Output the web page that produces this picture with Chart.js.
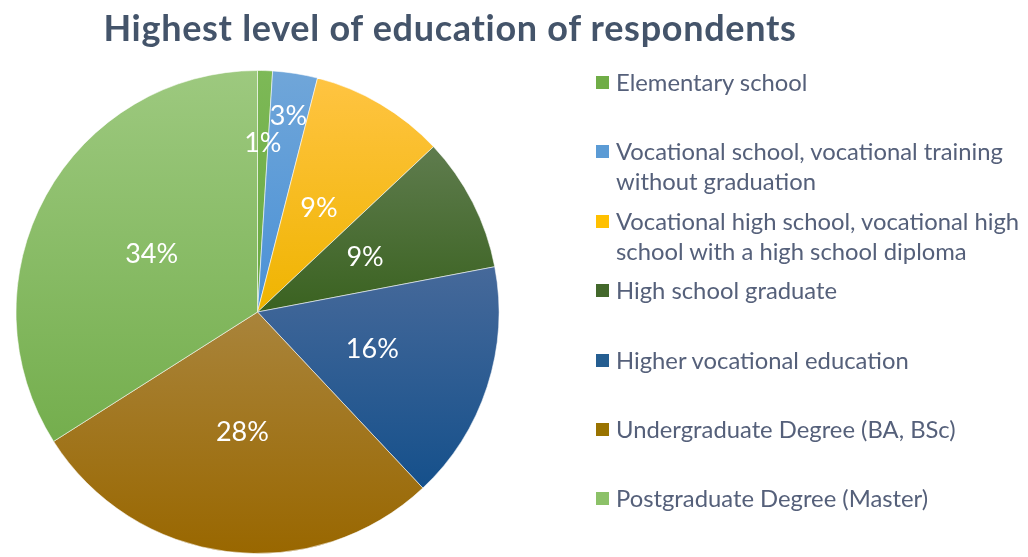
<!DOCTYPE html>
<html>
<head>
<meta charset="utf-8">
<script src="https://cdn.jsdelivr.net/npm/chart.js@4/dist/chart.umd.min.js"></script>
<style>
  html, body { margin: 0; padding: 0; background: #ffffff; overflow: hidden; }
  #wrap { position: relative; width: 1028px; height: 557px; }
  #pie { position: absolute; left: 0; top: 0; }
  #title {
    position: absolute; left: 0; top: 5px; width: 900px; text-align: center;
    font-family: Lato, sans-serif; font-weight: bold; font-size: 36px;
    letter-spacing: 0.7px;
    color: #44546A; line-height: 44px; white-space: nowrap;
  }
  #legend {
    position: absolute; left: 596px; top: 67px; width: 432px;
    font-family: Lato, sans-serif; font-size: 23.8px; color: #55607a;
  }
  .item { position: relative; height: 69.4px; line-height: 30px; }
  .swatch { position: absolute; left: 0; top: 9px; width: 13px; height: 13px; }
  .text { position: absolute; left: 20px; top: 0; width: 412px; }
</style>
</head>
<body>
<div id="wrap">
  <canvas id="pie" width="1028" height="557"></canvas>
  <div id="title">Highest level of education of respondents</div>
  <div id="legend"></div>
</div>
<script>
// Education levels, shares in percent
const categories = [
  'Elementary school',
  'Vocational school, vocational training without graduation',
  'Vocational high school, vocational high school with a high school diploma',
  'High school graduate',
  'Higher vocational education',
  'Undergraduate Degree (BA, BSc)',
  'Postgraduate Degree (Master)'
];
const shares = [1, 3, 9, 9, 16, 28, 34];

// Slice fills: lighter at the top of each slice, deeper at the bottom
const swatchColors = ['#70AD47', '#5B9BD5', '#FFC000', '#43682B', '#255E91', '#997300', '#8CC168'];
const topColors    = ['#7db957', '#70a6d9', '#ffc442', '#5f7c4e', '#46699a', '#a9843b', '#9dc97f'];
const bottomColors = ['#68a73e', '#4a91d6', '#efb400', '#3a6220', '#15508b', '#996700', '#74ae4d'];

// Per-slice distance of the value label from the centre (fraction of radius)
const labelRadius = [0.70, 0.82, 0.5, 0.5, 0.5, 0.5, 0.5];

function sliceYRange(cy, r, a0, a1) {
  const ys = [cy, cy + r * Math.sin(a0), cy + r * Math.sin(a1)];
  // include the top-most / bottom-most points of the arc when they fall inside it
  for (let k = -3; k <= 5; k++) {
    const a = k * Math.PI / 2;
    if (Math.abs(Math.sin(a)) > 0.5 && a > a0 && a < a1) ys.push(cy + r * Math.sin(a));
  }
  return [Math.min(...ys), Math.max(...ys)];
}

function sliceFill(ctx) {
  const chart = ctx.chart;
  const i = ctx.dataIndex;
  const area = chart.chartArea;
  if (!area || i === undefined) return swatchColors[i] || swatchColors[0];
  const total = shares.reduce((s, v) => s + v, 0);
  let before = 0;
  for (let k = 0; k < i; k++) before += shares[k];
  const a0 = -Math.PI / 2 + before / total * 2 * Math.PI;
  const a1 = a0 + shares[i] / total * 2 * Math.PI;
  const cy = (area.top + area.bottom) / 2;
  const r = Math.min(area.right - area.left, area.bottom - area.top) / 2;
  const [y0, y1] = sliceYRange(cy, r, a0, a1);
  const g = chart.ctx.createLinearGradient(0, y0, 0, y1);
  g.addColorStop(0, topColors[i]);
  g.addColorStop(1, bottomColors[i]);
  return g;
}

const sliceLabels = {
  id: 'sliceLabels',
  afterDatasetsDraw(chart) {
    const c = chart.ctx;
    const meta = chart.getDatasetMeta(0);
    c.save();
    c.fillStyle = '#ffffff';
    c.font = '27px Lato, sans-serif';
    c.textAlign = 'center';
    c.textBaseline = 'middle';
    meta.data.forEach((arc, i) => {
      const p = arc.getProps(['x', 'y', 'startAngle', 'endAngle', 'outerRadius'], true);
      const mid = (p.startAngle + p.endAngle) / 2;
      const rr = p.outerRadius * labelRadius[i];
      const v = chart.data.datasets[0].data[i];
      c.fillText(Math.round(v) + '%', p.x + rr * Math.cos(mid), p.y + rr * Math.sin(mid));
    });
    c.restore();
  }
};

new Chart(document.getElementById('pie'), {
  type: 'pie',
  data: {
    labels: categories,
    datasets: [{
      data: shares,
      backgroundColor: sliceFill,
      borderColor: 'rgba(255,255,255,0.55)',
      borderWidth: 1
    }]
  },
  options: {
    responsive: false,
    animation: false,
    rotation: 0,
    layout: { padding: { left: 14, top: 70, right: 527, bottom: 3 } },
    plugins: {
      legend: { display: false },
      tooltip: { enabled: false },
      title: { display: false }
    }
  },
  plugins: [sliceLabels]
});

// Legend built from the same categories and swatch colours
const legend = document.getElementById('legend');
categories.forEach((name, i) => {
  const item = document.createElement('div');
  item.className = 'item';
  const sw = document.createElement('div');
  sw.className = 'swatch';
  sw.style.background = swatchColors[i];
  const tx = document.createElement('div');
  tx.className = 'text';
  tx.textContent = name;
  item.appendChild(sw);
  item.appendChild(tx);
  legend.appendChild(item);
});
</script>
</body>
</html>
